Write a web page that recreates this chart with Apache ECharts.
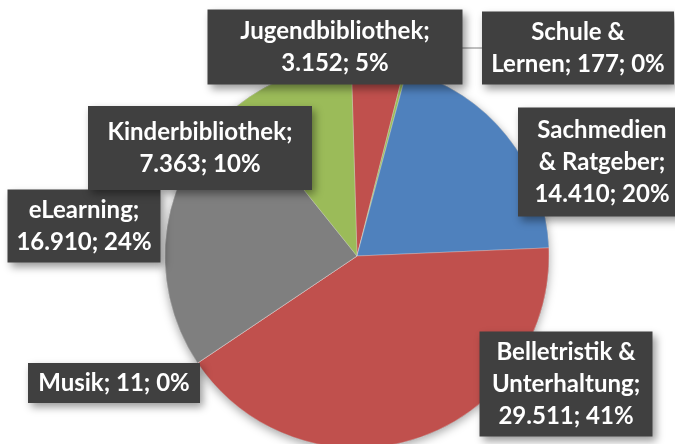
<!DOCTYPE html>
<html>
<head>
<meta charset="utf-8">
<script src="https://cdn.jsdelivr.net/npm/echarts@6/dist/echarts.min.js"></script>
<style>
  html, body { margin: 0; padding: 0; background: #fff; }
  #chart { width: 675px; height: 444px; }
</style>
</head>
<body>
<div id="chart"></div>
<script>
  // Medienbestand nach Kategorie
  const categories = ['Jugendbibliothek', 'Schule & Lernen', 'Sachmedien & Ratgeber', 'Belletristik & Unterhaltung', 'Musik', 'eLearning', 'Kinderbibliothek']
  const values = [3152, 177, 14410, 29511, 11, 16910, 7363]
  const colors = ['#c0504d', '#9bbb59', '#4f81bd', '#c0504d', '#7f7f7f', '#7f7f7f', '#9bbb59']

  // Beschriftungskästen: Mitte x, Mitte y, Breite, Höhe
  const boxes = [
    [335, 47, 255, 75],
    [578, 48, 192, 73],
    [602, 162, 168, 109],
    [566, 384, 173, 105],
    [114, 383, 172, 40],
    [84, 226, 153, 73],
    [200, 148, 224, 84],
  ]
  // Wörter pro Zeile
  const wraps = [[1, 2], [2, 3], [1, 2, 2], [2, 1, 2], [3], [1, 2], [1, 2]]
  const lineH = 32

  const total = values.reduce((a, b) => a + b, 0)

  function fmt(n) {
    return String(n).replace(/\B(?=(\d{3})+(?!\d))/g, '.')
  }

  const chart = echarts.init(document.getElementById('chart'))

  const data = values.map((v, i) => {
    const b = boxes[i]
    const n = wraps[i].length
    return {
      name: categories[i],
      value: v,
      itemStyle: { color: colors[i] },
      label: {
        width: b[2],
        padding: [(b[3] - n * lineH) / 2, 0],
      },
      labelLine: { show: i === 1 },
    }
  })

  chart.setOption({
    animation: false,
    backgroundColor: '#fff',
    series: [
      {
        // Schatten unter dem Kreis
        type: 'pie',
        silent: true,
        center: [357, 256],
        radius: 192,
        z: 1,
        data: [{ value: total }],
        label: { show: false },
        labelLine: { show: false },
        itemStyle: {
          color: '#888',
          shadowBlur: 10,
          shadowOffsetY: 3,
          shadowColor: 'rgba(0,0,0,0.35)',
        },
      },
      {
        type: 'pie',
        center: [357, 256],
        radius: 192,
        startAngle: 91.7,
        clockwise: true,
        percentPrecision: 0,
        z: 2,
        data: data,
        itemStyle: {
          borderColor: 'rgba(255,255,255,0.5)',
          borderWidth: 0.5,
        },
        label: {
          show: true,
          position: 'outside',
          color: '#fff',
          fontFamily: 'Lato',
          fontWeight: 'bold',
          fontSize: 24,
          lineHeight: lineH,
          align: 'center',
          backgroundColor: '#404040',
          shadowColor: 'rgba(0,0,0,0.4)',
          shadowBlur: 8,
          shadowOffsetX: 3,
          shadowOffsetY: 4,
          formatter: (p) => {
            const words = (p.name + '; ' + fmt(p.value) + '; ' + p.percent + '%').split(' ')
            const lines = []
            let k = 0
            wraps[p.dataIndex].forEach((c) => {
              lines.push(words.slice(k, k + c).join(' '))
              k += c
            })
            return lines.join('\n')
          },
        },
        labelLine: {
          show: false,
          lineStyle: { color: '#808080', width: 1 },
        },
        labelLayout: (params) => {
          const b = boxes[params.dataIndex]
          return { x: b[0], y: b[1], align: 'center', verticalAlign: 'middle' }
        },
      },
    ],
  })
</script>
</body>
</html>
